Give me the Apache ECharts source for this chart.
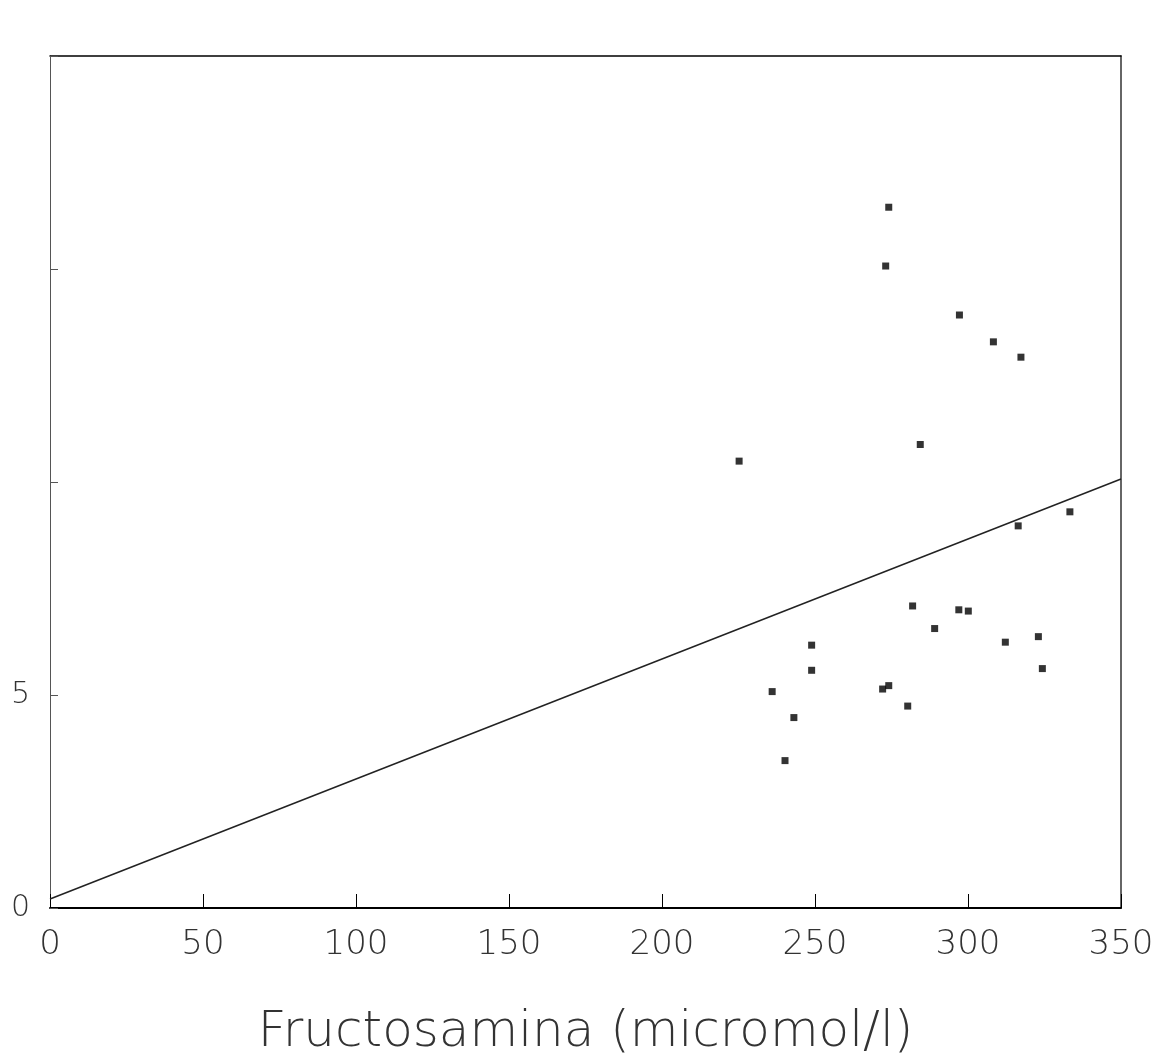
<!DOCTYPE html>
<html><head><meta charset="utf-8">
<script src="https://cdn.jsdelivr.net/npm/echarts@6/dist/echarts.min.js"></script>
<style>html,body{margin:0;padding:0;background:#fff}#c{width:1170px;height:1053px}</style>
</head><body><div id="c"></div>
<script>
const fructosamina = [225.2,274.1,273.1,297.2,308.3,317.3,284.4,316.4,333.3,281.9,297.0,300.1,289.1,312.2,323.0,324.3,248.9,248.9,236.0,243.1,240.2,272.1,274.1,280.3];
const yValues = [10.49,16.45,15.07,13.92,13.29,12.93,10.88,8.97,9.30,7.09,7.00,6.97,6.56,6.24,6.37,5.62,6.17,5.58,5.08,4.47,3.46,5.14,5.22,4.74];
const lineX = [0, 350];
const lineY = [0.21, 10.07];
const xTicks = [0,50,100,150,200,250,300,350];
const yTickLabels = {0:'0',5:'5'};

const points = fructosamina.map((x,i)=>[x, yValues[i]]);
const linePts = lineX.map((x,i)=>[x, lineY[i]]);
const chart = echarts.init(document.getElementById('c'));
const lblFont = {fontFamily:'"DejaVu Sans", sans-serif', fontWeight:200, color:'#333'};
chart.setOption({
  animation:false,
  grid:{left:50,right:49,top:56,bottom:145,containLabel:false,outerBoundsMode:'none'},
  xAxis:[{type:'value',min:0,max:350,interval:50,
    axisLine:{show:true,onZero:false,lineStyle:{color:'#000',width:2}},
    axisTick:{show:true,inside:true,length:14,lineStyle:{color:'#000',width:1}},
    splitLine:{show:false},
    axisLabel:Object.assign({fontSize:34,margin:20},lblFont),
    name:'Fructosamina (micromol/l)',nameLocation:'middle',nameGap:100,
    nameTextStyle:Object.assign({fontSize:50},lblFont)
  },{type:'value',min:0,max:350,position:'top',
    axisLine:{show:true,onZero:false,lineStyle:{color:'#000',width:1.5}},
    axisTick:{show:false},axisLabel:{show:false},splitLine:{show:false}}],
  yAxis:[{type:'value',min:0,max:20,interval:5,
    axisLine:{show:true,onZero:false,lineStyle:{color:'#555',width:1}},
    axisTick:{show:true,inside:true,length:8,lineStyle:{color:'#555'}},
    splitLine:{show:false},
    axisLabel:Object.assign({fontSize:30,margin:20,formatter:v=>yTickLabels[v]||''},lblFont)
  },{type:'value',min:0,max:20,position:'right',
    axisLine:{show:true,onZero:false,lineStyle:{color:'#333',width:1.5}},
    axisTick:{show:false},axisLabel:{show:false},splitLine:{show:false}}],
  series:[
    {type:'line',data:linePts,showSymbol:false,symbol:'none',lineStyle:{color:'#222',width:1.5},z:3},
    {type:'scatter',data:points,symbol:'rect',symbolSize:7,itemStyle:{color:'#000'},z:4}
  ]
});
</script></body></html>
